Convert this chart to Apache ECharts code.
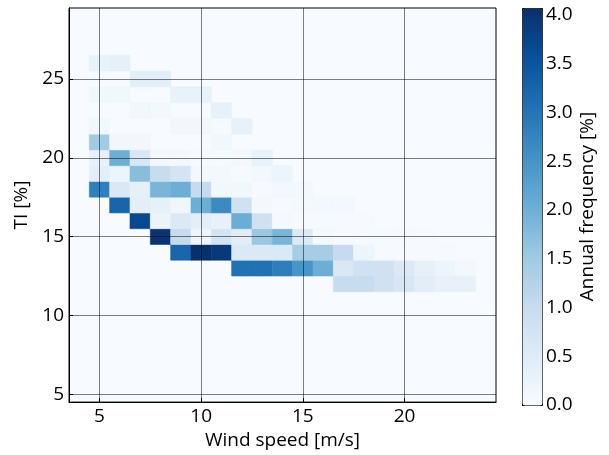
<!DOCTYPE html>
<html>
<head>
<meta charset="utf-8">
<script src="https://cdn.jsdelivr.net/npm/echarts@6/dist/echarts.min.js"></script>
<style>
  html, body { margin: 0; padding: 0; background: #fff; }
  #chart { width: 609px; height: 455px; }
</style>
</head>
<body>
<div id="chart"></div>
<script>
// 风速 (列) 与 TI (行)
var windSpeeds = [5, 6, 7, 8, 9, 10, 11, 12, 13, 14, 15, 16, 17, 18, 19, 20, 21, 22, 23];
var tiLevels = [12, 13, 14, 15, 16, 17, 18, 19, 20, 21, 22, 23, 24, 25, 26];

// 每个 TI 行的年频率 [%]，按 windSpeeds 顺序
var freqTI12 = [0, 0, 0, 0, 0, 0, 0, 0, 0, 0, 0, 0, 1.00, 1.00, 0.81, 0.66, 0.43, 0.31, 0.31];
var freqTI13 = [0, 0, 0, 0, 0, 0, 0, 3.05, 3.05, 2.85, 2.47, 2.03, 0.60, 0.83, 0.80, 0.57, 0.35, 0.20, 0.08];
var freqTI14 = [0, 0, 0, 0, 3.22, 4.07, 3.92, 0.57, 0.57, 0.57, 1.43, 1.43, 1.02, 0.20, 0.03, 0.03, 0.03, 0.03, 0];
var freqTI15 = [0, 0, 0, 4.00, 1.02, 0.18, 0.72, 0.43, 1.57, 1.91, 0.55, 0.06, 0.02, 0.03, 0.04, 0.04, 0.03, 0, 0];
var freqTI16 = [0, 0, 3.70, 0.25, 0.57, 0.41, 0.31, 2.05, 0.81, 0.06, 0.02, 0.04, 0.03, 0.04, 0, 0, 0, 0, 0];
var freqTI17 = [0, 3.24, 0.41, 0.35, 0.16, 2.03, 2.65, 0.81, 0.08, 0.02, 0.06, 0.10, 0.10, 0, 0, 0, 0, 0, 0];
var freqTI18 = [2.83, 0.60, 0.35, 1.91, 2.03, 1.02, 0.14, 0.14, 0.03, 0.08, 0.10, 0, 0, 0, 0, 0, 0, 0, 0];
var freqTI19 = [0.41, 0.22, 1.75, 0.98, 0.72, 0.08, 0.08, 0.03, 0.10, 0.20, 0, 0, 0, 0, 0, 0, 0, 0, 0];
var freqTI20 = [0.31, 2.03, 0.63, 0.10, 0.10, 0.04, 0.04, 0.08, 0.30, 0, 0, 0, 0, 0, 0, 0, 0, 0, 0];
var freqTI21 = [1.50, 0.12, 0.12, 0, 0, 0, 0.14, 0, 0, 0, 0, 0, 0, 0, 0, 0, 0, 0, 0];
var freqTI22 = [0.14, 0, 0, 0, 0.12, 0.12, 0.04, 0.31, 0, 0, 0, 0, 0, 0, 0, 0, 0, 0, 0];
var freqTI23 = [0, 0, 0.14, 0.10, 0, 0, 0.33, 0, 0, 0, 0, 0, 0, 0, 0, 0, 0, 0, 0];
var freqTI24 = [0.14, 0.14, 0, 0, 0.30, 0.30, 0, 0, 0, 0, 0, 0, 0, 0, 0, 0, 0, 0, 0];
var freqTI25 = [0, 0, 0.42, 0.42, 0, 0, 0, 0, 0, 0, 0, 0, 0, 0, 0, 0, 0, 0, 0];
var freqTI26 = [0.30, 0.35, 0, 0, 0, 0, 0, 0, 0, 0, 0, 0, 0, 0, 0, 0, 0, 0, 0];

// 刻度
var xTicks = [5, 10, 15, 20];
var yTicks = [5, 10, 15, 20, 25];
var cbTicks = [0, 0.5, 1.0, 1.5, 2.0, 2.5, 3.0, 3.5, 4.0];
var freqMax = 4.07;

var rows = [freqTI12, freqTI13, freqTI14, freqTI15, freqTI16, freqTI17, freqTI18,
            freqTI19, freqTI20, freqTI21, freqTI22, freqTI23, freqTI24, freqTI25, freqTI26];

var cells = [];
rows.forEach(function(row, r) {
	row.forEach(function(v, c) {
		if (v > 0) cells.push([windSpeeds[c], tiLevels[r], v]);
	});
});

var blues = ['#f7fbff', '#deebf7', '#c6dbef', '#9ecae1', '#6baed6', '#4292c6', '#2171b5', '#08519c', '#08306b'];
var font = 'Open Sans';
var fs = 19;

function renderCell(params, api) {
	var x = api.value(0), y = api.value(1);
	var p0 = api.coord([x - 0.5, y + 0.5]);
	var p1 = api.coord([x + 0.5, y - 0.5]);
	var col = api.visual('color');
	return {
		type: 'rect',
		shape: { x: p0[0], y: p0[1], width: p1[0] - p0[0], height: p1[1] - p0[1] },
		style: { fill: col, stroke: col, lineWidth: 0.6 }
	};
}

var chart = echarts.init(document.getElementById('chart'), null, { renderer: 'canvas' });

var option = {
	animation: false,
	textStyle: { fontFamily: font },
	grid: [
		{ left: 69, top: 8, width: 427, height: 397, show: true,
		  backgroundColor: '#f7fbff', borderColor: '#000', borderWidth: 1 },
		{ left: 522, top: 8, width: 20, height: 397, show: false }
	],
	xAxis: [
		{
			type: 'value', gridIndex: 0, min: 3.5, max: 24.5, z: 5,
			name: 'Wind speed [m/s]', nameLocation: 'middle', nameGap: 23,
			nameTextStyle: { fontSize: fs, color: '#000', fontFamily: font },
			axisLine: { lineStyle: { color: '#000', width: 1 } },
			axisTick: { inside: true, length: 4, customValues: xTicks, lineStyle: { color: '#000' } },
			axisLabel: { customValues: xTicks, fontSize: fs, color: '#000', margin: 5, fontFamily: font },
			splitLine: { show: true, lineStyle: { color: 'rgba(0,0,0,0.5)', width: 1 } }
		},
		{ type: 'value', gridIndex: 1, min: 0, max: 1, show: false }
	],
	yAxis: [
		{
			type: 'value', gridIndex: 0, min: 4.5, max: 29.5, z: 5,
			name: 'TI [%]', nameLocation: 'middle', nameGap: 33,
			nameTextStyle: { fontSize: fs, color: '#000', fontFamily: font },
			axisLine: { lineStyle: { color: '#000', width: 1 } },
			axisTick: { inside: true, length: 4, customValues: yTicks, lineStyle: { color: '#000' } },
			axisLabel: { customValues: yTicks, fontSize: fs, color: '#000', margin: 5, fontFamily: font },
			splitLine: { show: true, lineStyle: { color: 'rgba(0,0,0,0.5)', width: 1 } }
		},
		{
			type: 'value', gridIndex: 1, min: 0, max: freqMax, position: 'right',
			name: 'Annual frequency [%]', nameLocation: 'middle', nameGap: 36, nameRotate: 90,
			nameTextStyle: { fontSize: fs, color: '#000', fontFamily: font },
			axisLine: { show: false },
			axisTick: { show: true, length: 3, customValues: cbTicks, lineStyle: { color: '#000' } },
			axisLabel: {
				customValues: cbTicks, fontSize: fs, color: '#000', margin: 4, fontFamily: font,
				formatter: function(v) { return v.toFixed(1); }
			},
			splitLine: { show: false }
		}
	],
	visualMap: {
		type: 'continuous', min: 0, max: freqMax, dimension: 2, seriesIndex: 0,
		calculable: false, hoverLink: false, text: null, showLabel: false,
		left: 522, top: 8, itemWidth: 20, itemHeight: 397, padding: 0,
		borderColor: '#000', borderWidth: 1,
		inRange: { color: blues }
	},
	series: [{
		type: 'custom',
		xAxisIndex: 0, yAxisIndex: 0,
		renderItem: renderCell,
		encode: { x: 0, y: 1 },
		data: cells
	}]
};

chart.setOption(option);
window.onresize = function() { chart.resize(); };
</script>
</body>
</html>
